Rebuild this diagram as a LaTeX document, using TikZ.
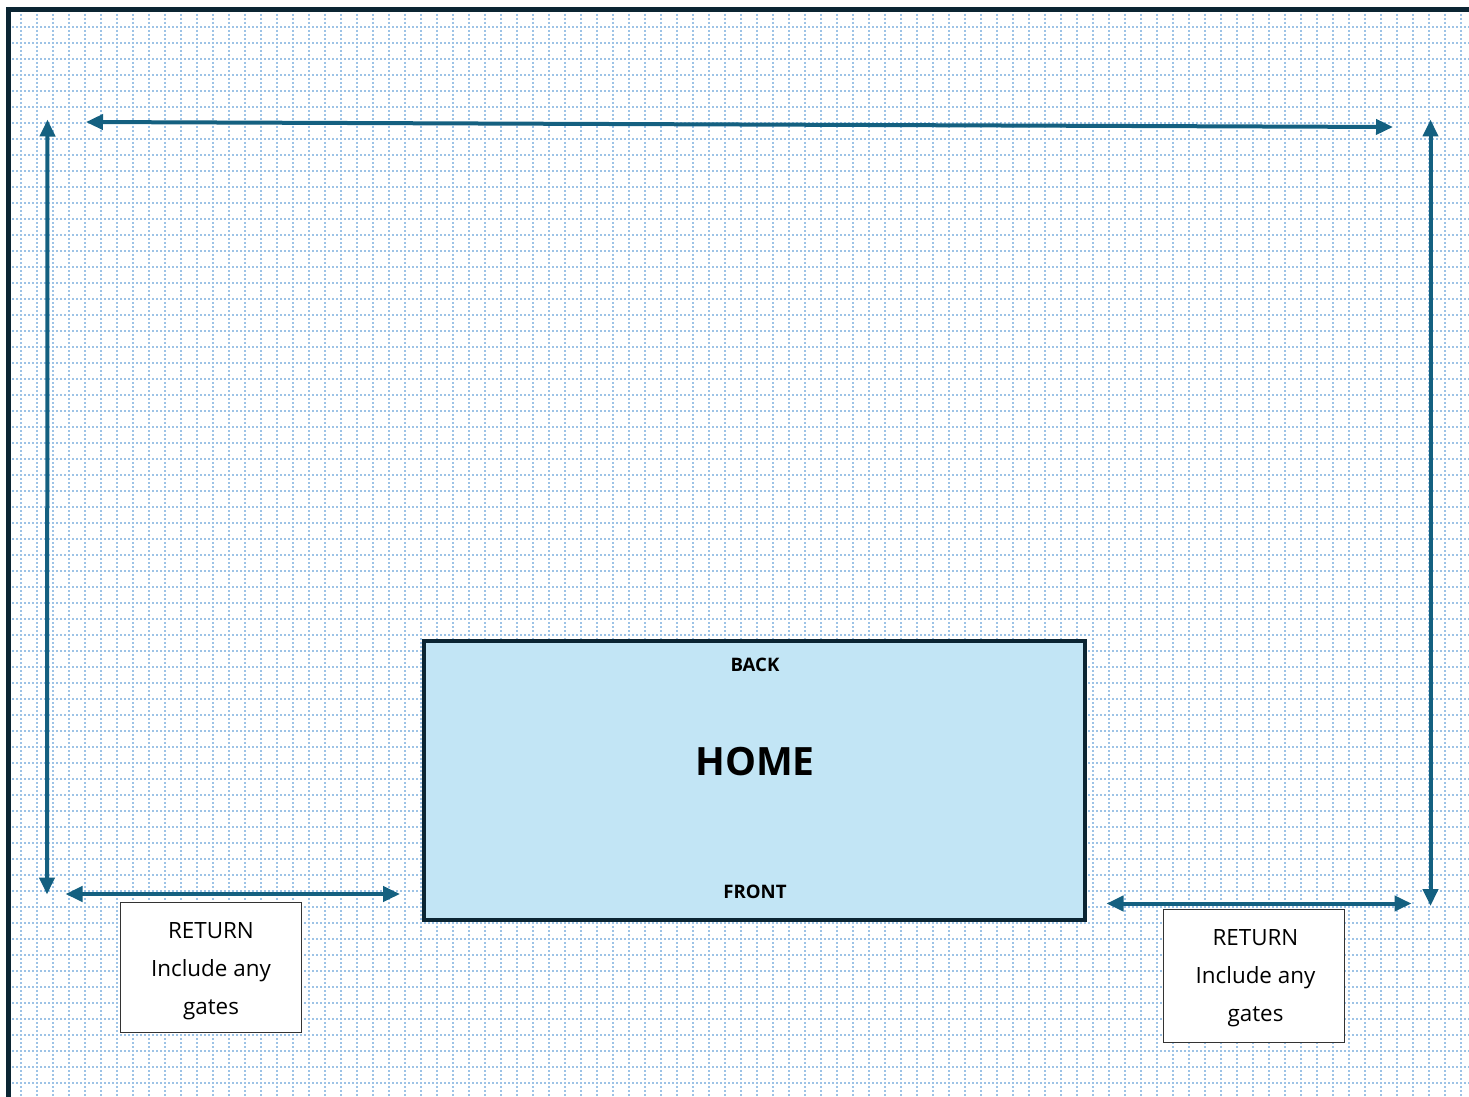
\documentclass[tikz,border=0pt]{standalone}
\usepackage{fontspec}
\setmainfont{Open Sans}
\usetikzlibrary{arrows.meta}
\definecolor{frameC}{HTML}{0B2533}
\definecolor{gridC}{HTML}{9DC3E6}
\definecolor{arrC}{HTML}{146080}
\definecolor{homeC}{HTML}{C2E5F5}
\begin{document}
\begin{tikzpicture}[x=1pt,y=-1pt,
  twoway/.style={arrC, line width=4pt,
    {Triangle[length=17pt,width=15pt]}-{Triangle[length=17pt,width=15pt]}},
  gridline/.style={gridC, line width=2pt, dash pattern=on 2pt off 2pt},
  homebox/.style={draw=frameC, fill=homeC, line width=4pt, inner sep=0pt,
    minimum width=660.7pt, minimum height=278.7pt},
  retbox/.style={draw=black!80, fill=white, line width=1pt, inner sep=0pt},
  edgelabel/.style={font=\fontsize{18.6}{22}\selectfont\bfseries, inner sep=0pt},
  titlelabel/.style={font=\fontsize{39}{44}\selectfont\bfseries, inner sep=0pt},
  rettext/.style={font=\fontsize{22.4}{27}\selectfont, inner sep=0pt, anchor=base}]
\useasboundingbox (0,0) rectangle (1469,1097);
\fill[white] (0,0) rectangle (1469,1097);
% grid
\begin{scope}
  \clip (11,12) rectangle (1469,1097);
  \foreach \i in {0,...,91}
    \draw[gridline] (5+16*\i,10) -- (5+16*\i,1100);
  \foreach \j in {0,...,67}
    \draw[gridline] (4,11+16*\j) -- (1472,11+16*\j);
\end{scope}
% frame
\draw[frameC, line width=5pt] (8.5,1105) -- (8.5,9.5) -- (1480,9.5);
% home
\node[homebox] (home) at (754.3,780.3) {};
\node[edgelabel] (back) at (755,665) {BACK};
\node[titlelabel] (hometitle) at (755,762) {HOME};
\node[edgelabel] (front) at (755,892) {FRONT};
% return boxes
\node[retbox, minimum width=180.7pt, minimum height=130pt] (retL) at (210.7,967.7) {};
\node[rettext] (retL1) at (211,938.7) {RETURN};
\node[rettext] (retL2) at (211,976.7) {Include any};
\node[rettext] (retL3) at (211,1014.7) {gates};
\node[retbox, minimum width=181pt, minimum height=133.4pt] (retR) at (1253.8,976) {};
\node[rettext] (retR1) at (1255.5,945.7) {RETURN};
\node[rettext] (retR2) at (1255.5,983.7) {Include any};
\node[rettext] (retR3) at (1255.5,1021.7) {gates};
% arrows
\coordinate (topL) at (86,122);
\coordinate (topR) at (1393,127);
\coordinate (leftT) at (47.5,119.5);
\coordinate (leftB) at (47,894.5);
\coordinate (rightT) at (1430.5,119.5);
\coordinate (rightB) at (1430.5,906);
\coordinate (blL) at (65.5,894);
\coordinate (blR) at (400,894);
\coordinate (brL) at (1106.5,903.5);
\coordinate (brR) at (1411.5,903.5);
\draw[twoway] (topL) -- (topR);
\draw[twoway] (leftT) -- (leftB);
\draw[twoway] (rightT) -- (rightB);
\draw[twoway] (blL) -- (blR);
\draw[twoway] (brL) -- (brR);
\end{tikzpicture}
\end{document}
